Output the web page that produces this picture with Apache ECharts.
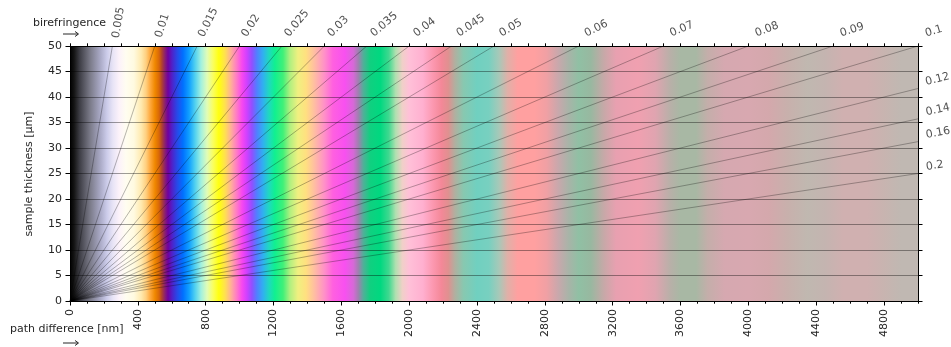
<!DOCTYPE html>
<html>
<head>
<meta charset="utf-8">
<script src="https://cdn.jsdelivr.net/npm/echarts@6/dist/echarts.min.js"></script>
<style>
html,body{margin:0;padding:0;background:#fff;}
#chart{width:951px;height:347px;}
</style>
</head>
<body>
<div id="chart"></div>
<script>
// ---- data ----
const birefringence = [0.005,0.01,0.015,0.02,0.025,0.03,0.035,0.04,0.045,0.05,0.06,0.07,0.08,0.09,0.1,0.12,0.14,0.16,0.2];
const birefringenceLabels = ['0.005','0.01','0.015','0.02','0.025','0.03','0.035','0.04','0.045','0.05','0.06','0.07','0.08','0.09','0.1','0.12','0.14','0.16','0.2'];
const pathMax = 5000;       // nm
const thicknessMax = 50;    // µm
const pathTickLabels = [0,400,800,1200,1600,2000,2400,2800,3200,3600,4000,4400,4800];
const thicknessTicks = [0,5,10,15,20,25,30,35,40,45,50];
// interference colour: path difference (nm) -> colour
const colorNm = [0,24,59,118,177,218,253,289,330,377,419,448,472,501,525,542,560,578,601,631,666,702,737,772,808,843,878,914,949,984,1014,1043,1073,1102,1138,1173,1208,1256,1297,1344,1391,1438,1500,1550,1620,1670,1700,1730,1770,1830,1880,1920,1960,2000,2080,2140,2190,2230,2270,2320,2400,2470,2530,2580,2640,2740,2810,2880,2940,3000,3070,3150,3220,3350,3450,3540,3600,3690,3760,3860,4000,4120,4230,4350,4450,4560,4700,4800,4900,5000];
const colorHex = ['#000000','#141414','#404048','#7a7a88','#a8a8c4','#ccccea','#e8e4f6','#fcf2fa','#fffdf0','#fffae0','#ffeab0','#ffd080','#ffaa40','#f08800','#d86808','#b04030','#8a2070','#7000a0','#5020c8','#2848e8','#0070ff','#10a0ff','#50d0f0','#a0f0e0','#e0fcb8','#faff60','#ffff10','#ffe050','#ffb098','#ff78c8','#f848f0','#d040ff','#9050ff','#5080ff','#30b0f0','#20d8c0','#10f090','#40f078','#b0f080','#f0f080','#ffe080','#ffc0a0','#ff90c8','#ff60e0','#f850f0','#d868d8','#a080b0','#50b098','#10d080','#00d880','#40d890','#b0e0b0','#f0d0c8','#ffc0d8','#ffb0d0','#fc98b0','#f48898','#e09090','#b0b0a0','#88c8b0','#70d0c0','#78d0c0','#a8c8b8','#e0b0a8','#ffa0a0','#ffa0a0','#f0a0a4','#c8a8ac','#a8b4a8','#90c0a4','#98b8a0','#c8a8a8','#e8a0b0','#f0a0b0','#e0a4b0','#b8b0a8','#a8b8a4','#a8b8a4','#c4aeaa','#d6a8b0','#d8a8b0','#d4a8ac','#c8b0ac','#c0b8b0','#c4b4b0','#d0b0b0','#d0b0b0','#c8b4b0','#c0b8b2','#c0b8b2'];

const FONT = 'DejaVu Sans';
const TXT = '#262626';

const chart = echarts.init(document.getElementById('chart'), null, {renderer:'canvas'});

const stops = colorNm.map((nm, i) => ({offset: nm / pathMax, color: colorHex[i]}));

function lineEnd(b) {
  const t = Math.min(thicknessMax, pathMax / (1000 * b));
  return [1000 * b * t, t];
}

const lineSeries = birefringence.map(b => ({
  type: 'line',
  data: [[0, 0], lineEnd(b)],
  symbol: 'none',
  silent: true,
  z: 3,
  lineStyle: {color: 'rgba(0,0,0,0.42)', width: 0.7},
  animation: false
}));

const baseOption = {
  animation: false,
  grid: {left: 70, right: 33, top: 46, bottom: 46, containLabel: false},
  xAxis: [
    {type:'value', position:'bottom', min:0, max:pathMax, interval:400,
     axisLine:{show:true, onZero:false, lineStyle:{color:'#000', width:1}},
     axisTick:{show:true, length:4.5, customValues:pathTickLabels, lineStyle:{color:'#000'}},
     axisLabel:{show:true, rotate:90, margin:8, customValues:pathTickLabels, fontFamily:FONT, fontSize:11, color:TXT,
                formatter: v => String(v)},
     splitLine:{show:false}, z:6},
    {type:'value', position:'bottom', min:0, max:pathMax, interval:100,
     axisLine:{show:false, onZero:false}, axisTick:{show:true, length:2.7, lineStyle:{color:'#000'}},
     axisLabel:{show:false}, splitLine:{show:false}, z:6},
    {type:'value', position:'top', min:0, max:pathMax, interval:100,
     axisLine:{show:true, onZero:false, lineStyle:{color:'#000', width:1}},
     axisTick:{show:true, length:2.7, lineStyle:{color:'#000'}},
     axisLabel:{show:false}, splitLine:{show:false}, z:6}
  ],
  yAxis: [
    {type:'value', position:'left', min:0, max:thicknessMax, interval:5,
     axisLine:{show:true, onZero:false, lineStyle:{color:'#000', width:1}},
     axisTick:{show:true, length:4.5, lineStyle:{color:'#000'}},
     axisLabel:{show:true, margin:8, fontFamily:FONT, fontSize:11, color:TXT, formatter: v => String(v)},
     splitLine:{show:true, lineStyle:{color:'rgba(0,0,0,0.38)', width:1}}, z:6},
    {type:'value', position:'right', min:0, max:thicknessMax, interval:5,
     axisLine:{show:true, onZero:false, lineStyle:{color:'#000', width:1}},
     axisTick:{show:true, length:4.5, lineStyle:{color:'#000'}},
     axisLabel:{show:false}, splitLine:{show:false}, z:6}
  ],
  graphic: [
    {type:'text', x:33, y:23, style:{text:'birefringence', font:'11px "DejaVu Sans"', fill:TXT, align:'left', verticalAlign:'middle'}},
    {type:'polyline', shape:{points:[[63,34],[78,34]]}, style:{stroke:TXT, lineWidth:1}},
    {type:'polyline', shape:{points:[[75,31.5],[78.5,34],[75,36.5]]}, style:{stroke:TXT, lineWidth:1, fill:null}},
    {type:'text', x:10, y:329, style:{text:'path difference [nm]', font:'11px "DejaVu Sans"', fill:TXT, align:'left', verticalAlign:'middle'}},
    {type:'polyline', shape:{points:[[63,343],[78,343]]}, style:{stroke:TXT, lineWidth:1}},
    {type:'polyline', shape:{points:[[75,340.5],[78.5,343],[75,345.5]]}, style:{stroke:TXT, lineWidth:1, fill:null}},
    {type:'text', x:29, y:174, rotation:Math.PI/2, style:{text:'sample thickness [µm]', font:'11px "DejaVu Sans"', fill:TXT, align:'center', verticalAlign:'middle'}}
  ],
  series: [
    {type:'custom', silent:true, z:1, clip:false, data:[[0,0]],
     renderItem: function (params, api) {
       const p0 = api.coord([0, thicknessMax]);
       const p1 = api.coord([pathMax, 0]);
       return {type:'rect', shape:{x:p0[0], y:p0[1], width:p1[0]-p0[0], height:p1[1]-p0[1]},
               style:{fill:new echarts.graphic.LinearGradient(0,0,1,0, stops)}};
     }}
  ].concat(lineSeries)
};

chart.setOption(baseOption);

// labels rotated along each line, angle taken from the chart's own scales
const labelData = birefringence.map((b, i) => {
  const end = lineEnd(b);
  const p0 = chart.convertToPixel({xAxisIndex:0, yAxisIndex:0}, [0, 0]);
  const p1 = chart.convertToPixel({xAxisIndex:0, yAxisIndex:0}, end);
  const ang = Math.atan2(p0[1] - p1[1], p1[0] - p0[0]) * 180 / Math.PI;
  const onTop = end[1] >= thicknessMax - 1e-9;
  return {
    value: end,
    label: {
      show: true,
      formatter: birefringenceLabels[i],
      rotate: ang,
      position: onTop ? [9, -7] : [9, -1],
      align: 'left',
      verticalAlign: 'bottom'
    }
  };
});

chart.setOption({
  series: baseOption.series.concat([{
    type:'scatter', silent:true, z:7, clip:false,
    symbolSize: 0,
    itemStyle:{color:'rgba(0,0,0,0)'},
    label:{show:true, fontFamily:FONT, fontSize:11, color:TXT},
    data: labelData
  }])
});
</script>
</body>
</html>
